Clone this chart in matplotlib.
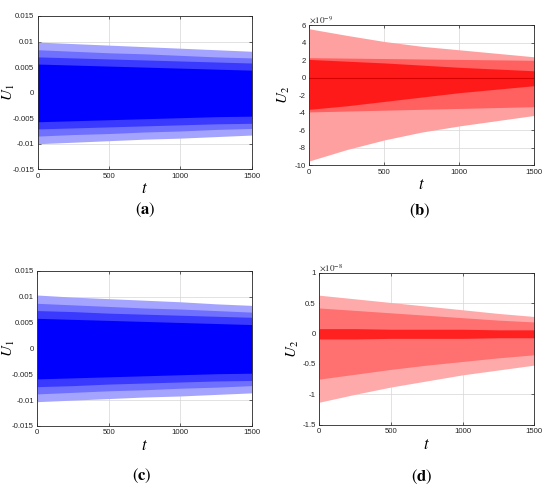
import numpy as np
import matplotlib
matplotlib.use("Agg")
import matplotlib.pyplot as plt
from matplotlib.ticker import FuncFormatter

plt.rcParams['font.family'] = ['Liberation Sans', 'DejaVu Sans']
plt.rcParams['mathtext.fontset'] = 'stix'

W, H = 550, 488

# envelope samples
t = np.array([0, 250, 500, 750, 1000, 1250, 1500])

# (a) U1
a_outer_up = [0.0099, 0.0096, 0.0093, 0.0090, 0.0087, 0.0084, 0.0081]
a_outer_lo = [-0.0100, -0.0097, -0.0094, -0.0091, -0.0089, -0.0086, -0.0083]
a_mid_up = [0.0084, 0.0081, 0.0078, 0.0076, 0.0073, 0.0070, 0.0068]
a_mid_lo = [-0.0085, -0.0082, -0.0080, -0.0077, -0.0075, -0.0072, -0.0070]
a_inner_up = [0.0070, 0.0068, 0.0066, 0.0064, 0.0062, 0.0060, 0.0058]
a_inner_lo = [-0.0071, -0.0069, -0.0067, -0.0065, -0.0063, -0.0061, -0.0060]
a_core_up = [0.0056, 0.0054, 0.0052, 0.0050, 0.0048, 0.0046, 0.0044]
a_core_lo = [-0.0057, -0.0055, -0.0053, -0.0051, -0.0049, -0.0047, -0.0046]

# (b) U2, x1e-9
b_outer_up = [5.6, 4.85, 4.15, 3.6, 3.2, 2.8, 2.4]
b_outer_lo = [-9.5, -8.2, -7.1, -6.2, -5.5, -4.9, -4.3]
b_mid_up = [2.3, 2.25, 2.2, 2.15, 2.1, 2.05, 2.0]
b_mid_lo = [-3.9, -3.8, -3.7, -3.6, -3.5, -3.4, -3.3]
b_core_up = [2.1, 1.9, 1.7, 1.45, 1.2, 1.0, 0.8]
b_core_lo = [-3.6, -3.2, -2.7, -2.2, -1.7, -1.3, -0.9]

# (c) U1
c_outer_up = [0.0103, 0.0099, 0.0096, 0.0093, 0.0090, 0.0086, 0.0083]
c_outer_lo = [-0.0103, -0.0100, -0.0097, -0.0094, -0.0092, -0.0089, -0.0086]
c_mid_up = [0.0087, 0.0084, 0.0081, 0.0078, 0.0076, 0.0073, 0.0070]
c_mid_lo = [-0.0088, -0.0085, -0.0082, -0.0080, -0.0077, -0.0075, -0.0072]
c_inner_up = [0.0073, 0.0071, 0.0068, 0.0066, 0.0064, 0.0062, 0.0060]
c_inner_lo = [-0.0074, -0.0072, -0.0069, -0.0067, -0.0065, -0.0063, -0.0062]
c_core_up = [0.0058, 0.0056, 0.0054, 0.0052, 0.0050, 0.0048, 0.0046]
c_core_lo = [-0.0059, -0.0057, -0.0055, -0.0053, -0.0051, -0.0049, -0.0048]

# (d) U2, x1e-8
d_outer_up = [0.63, 0.57, 0.51, 0.45, 0.39, 0.33, 0.28]
d_outer_lo = [-1.13, -1.0, -0.88, -0.78, -0.68, -0.60, -0.52]
d_mid_up = [0.42, 0.38, 0.34, 0.30, 0.26, 0.22, 0.19]
d_mid_lo = [-0.75, -0.67, -0.59, -0.52, -0.46, -0.40, -0.35]
d_core_up = [0.08, 0.08, 0.07, 0.07, 0.07, 0.06, 0.06]
d_core_lo = [-0.09, -0.09, -0.08, -0.08, -0.08, -0.07, -0.07]


def px_axes(fig, left, right, top, bottom):
    return fig.add_axes([left / W, 1 - bottom / H, (right - left) / W, (bottom - top) / H])


def style(ax, yticks, ylim, ylabel, ylab_x, box):
    left, right, top, bottom = box
    ax.set_xlim(0, 1500)
    ax.set_ylim(*ylim)
    ax.set_xticks([0, 500, 1000, 1500])
    ax.set_yticks(yticks)
    ax.yaxis.set_major_formatter(FuncFormatter(lambda v, p: '%g' % round(v, 6)))
    ax.tick_params(direction='in', length=2.5, width=0.5, labelsize=5.6,
                   top=True, right=True, colors='#262626', pad=2.5)
    for s in ax.spines.values():
        s.set_color('#262626')
        s.set_linewidth(0.6)
    ax.grid(True, color='#d6d6d6', linewidth=0.5)
    ax.set_axisbelow(True)
    ax.set_xlabel('$t$', fontsize=12, va='center')
    ax.xaxis.set_label_coords(0.5, -19.5 / (bottom - top))
    ax.set_ylabel(ylabel, fontsize=11, va='center')
    ax.yaxis.set_label_coords((ylab_x - left) / (right - left), 0.5)


def layers(ax, bands, colors):
    for (up, lo), col in zip(bands, colors):
        ax.fill_between(t, lo, up, color=col, linewidth=0, zorder=1)


fig = plt.figure(figsize=(W / 100, H / 100), dpi=100)

blues = ['#a4a4ff', '#7070ff', '#3a3aff', '#0000ff']
reds_b = ['#ffa0a0', '#ff6060', '#ff1a1a']
reds_d = ['#ffaaaa', '#ff7070', '#ff2020']

box = (37.7, 251.7, 16, 169.3)
ax = px_axes(fig, *box)
layers(ax, [(a_outer_up, a_outer_lo), (a_mid_up, a_mid_lo),
            (a_inner_up, a_inner_lo), (a_core_up, a_core_lo)], blues)
style(ax, [-0.015, -0.01, -0.005, 0, 0.005, 0.01, 0.015], (-0.015, 0.015), '$U_1$', 9, box)

box = (309.3, 534.3, 25.3, 165.3)
ax = px_axes(fig, *box)
layers(ax, [(b_outer_up, b_outer_lo), (b_mid_up, b_mid_lo), (b_core_up, b_core_lo)], reds_b)
ax.plot([0, 1500], [0, 0], color='#d80000', linewidth=0.8, zorder=2)
style(ax, [-10, -8, -6, -4, -2, 0, 2, 4, 6], (-10, 6), '$U_2$', 284, box)
ax.text(0.0, 1.0, r'$\times10^{-9}$', transform=ax.transAxes, fontsize=6.5,
        ha='left', va='bottom', color='#262626')

box = (37.3, 251.7, 270.7, 426)
ax = px_axes(fig, *box)
layers(ax, [(c_outer_up, c_outer_lo), (c_mid_up, c_mid_lo),
            (c_inner_up, c_inner_lo), (c_core_up, c_core_lo)], blues)
style(ax, [-0.015, -0.01, -0.005, 0, 0.005, 0.01, 0.015], (-0.015, 0.015), '$U_1$', 9, box)

box = (319.3, 534.3, 272.7, 424.7)
ax = px_axes(fig, *box)
layers(ax, [(d_outer_up, d_outer_lo), (d_mid_up, d_mid_lo), (d_core_up, d_core_lo)], reds_d)
style(ax, [-1.5, -1, -0.5, 0, 0.5, 1], (-1.5, 1), '$U_2$', 293, box)
ax.text(0.0, 1.0, r'$\times10^{-8}$', transform=ax.transAxes, fontsize=6.5,
        ha='left', va='bottom', color='#262626')

# panel letters
for x, y, letter in [(145, 210, 'a'), (420, 211, 'b'), (142, 476, 'c'), (422, 477, 'd')]:
    fig.text(x / W, 1 - y / H, r'$(\mathbf{%s})$' % letter, fontsize=12,
             ha='center', va='center')

fig.savefig('out.png', dpi=100)
